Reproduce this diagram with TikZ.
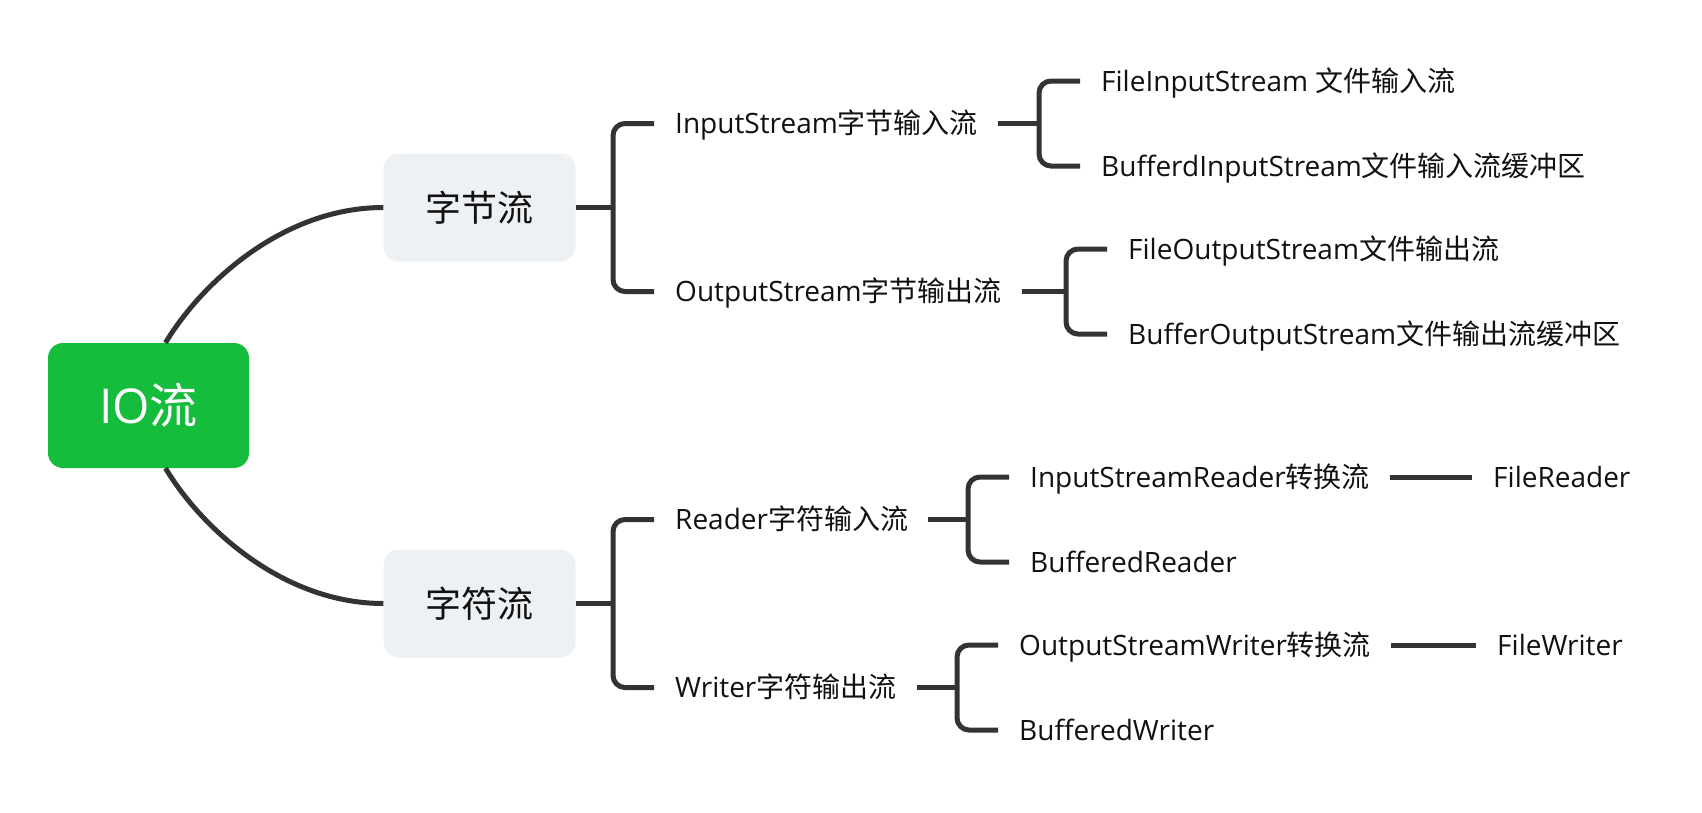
\documentclass[tikz,border=0pt]{standalone}
\usepackage{fontspec}
\setmainfont{Open Sans}
\newfontfamily\cjkfont{Noto Sans CJK SC}
\newcommand\zh[1]{{\cjkfont #1}}
\definecolor{iogreen}{HTML}{16BC3C}
\definecolor{boxgray}{HTML}{EEF1F4}
\definecolor{linegray}{HTML}{333333}
\definecolor{txt}{HTML}{111111}
\begin{document}
\begin{tikzpicture}[x=1pt,y=-1pt,
  conn/.style={draw=linegray,line width=5pt},
  brk/.style={conn,rounded corners=12pt},
  leaf/.style={anchor=west,inner sep=0pt,text height=20pt,text depth=0pt,
    text=txt,font=\fontsize{28}{34}\selectfont},
  rootbox/.style={fill=iogreen,rounded corners=15pt,minimum width=201pt,minimum height=125pt,
    inner sep=0pt,text=white,font=\fontsize{48}{56}\selectfont},
  midbox/.style={fill=boxgray,rounded corners=15pt,minimum width=192pt,minimum height=108pt,
    inner sep=0pt,text=txt,font=\fontsize{36}{42}\selectfont\cjkfont}]
\fill[white] (0,0) rectangle (1702,812);
\useasboundingbox (0,0) rectangle (1702,812);

\node[rootbox] (io) at (148.5,405.5) {IO\zh{流}};
\node[midbox] (z1) at (479.5,207.5) {字节流};
\node[midbox] (z2) at (479.5,603.5) {字符流};

\node[leaf] (ins)  at (675,123.5) {InputStream\zh{字节输入流}};
\node[leaf] (outs) at (675,291.5) {OutputStream\zh{字节输出流}};
\node[leaf] (fis)  at (1101,81)   {FileInputStream \zh{文件输入流}};
\node[leaf] (bis)  at (1101,166)  {BufferdInputStream\zh{文件输入流缓冲区}};
\node[leaf] (fos)  at (1128,249)  {FileOutputStream\zh{文件输出流}};
\node[leaf] (bos)  at (1128,334)  {BufferOutputStream\zh{文件输出流缓冲区}};
\node[leaf] (rd)   at (675,519.5) {Reader\zh{字符输入流}};
\node[leaf] (wr)   at (675,687.5) {Writer\zh{字符输出流}};
\node[leaf] (isr)  at (1030,477)  {InputStreamReader\zh{转换流}};
\node[leaf] (br)   at (1030,562)  {BufferedReader};
\node[leaf] (osw)  at (1019,645)  {OutputStreamWriter\zh{转换流}};
\node[leaf] (bw)   at (1019,730)  {BufferedWriter};
\node[leaf] (fr)   at (1493,477)  {FileReader};
\node[leaf] (fw)   at (1497,645)  {FileWriter};

% root curves
\draw[conn] ([xshift=17pt]io.north) .. controls +(36,-60) and +(-100,0) .. (z1.west);
\draw[conn] ([xshift=17pt]io.south) .. controls +(36,60) and +(-100,0) .. (z2.west);

% junction coordinates
\coordinate (j1) at ([xshift=-62pt]ins.west);
\coordinate (j2) at ([xshift=-62pt]fis.west);
\coordinate (j3) at ([xshift=-62pt]fos.west);
\coordinate (j4) at ([xshift=-62pt]rd.west);
\coordinate (j5) at ([xshift=-62pt]isr.west);
\coordinate (j6) at ([xshift=-62pt]osw.west);

% z1 bracket
\draw[conn] (z1.east) -- (j1 |- z1.east);
\draw[brk] ([xshift=-21pt]ins.west) -| ([xshift=-62pt]outs.west) -- ([xshift=-21pt]outs.west);
% ins bracket
\draw[conn] ([xshift=20pt]ins.east) -- (j2 |- ins.east);
\draw[brk] ([xshift=-21pt]fis.west) -| ([xshift=-62pt]bis.west) -- ([xshift=-21pt]bis.west);
% outs bracket
\draw[conn] ([xshift=20pt]outs.east) -- (j3 |- outs.east);
\draw[brk] ([xshift=-21pt]fos.west) -| ([xshift=-62pt]bos.west) -- ([xshift=-21pt]bos.west);
% z2 bracket
\draw[conn] (z2.east) -- (j4 |- z2.east);
\draw[brk] ([xshift=-21pt]rd.west) -| ([xshift=-62pt]wr.west) -- ([xshift=-21pt]wr.west);
% rd bracket
\draw[conn] ([xshift=20pt]rd.east) -- (j5 |- rd.east);
\draw[brk] ([xshift=-21pt]isr.west) -| ([xshift=-62pt]br.west) -- ([xshift=-21pt]br.west);
% wr bracket
\draw[conn] ([xshift=20pt]wr.east) -- (j6 |- wr.east);
\draw[brk] ([xshift=-21pt]osw.west) -| ([xshift=-62pt]bw.west) -- ([xshift=-21pt]bw.west);
% leaf links
\draw[conn] ([xshift=20pt]isr.east) -- ([xshift=-21pt]fr.west);
\draw[conn] ([xshift=20pt]osw.east) -- ([xshift=-21pt]fw.west);
\end{tikzpicture}
\end{document}
